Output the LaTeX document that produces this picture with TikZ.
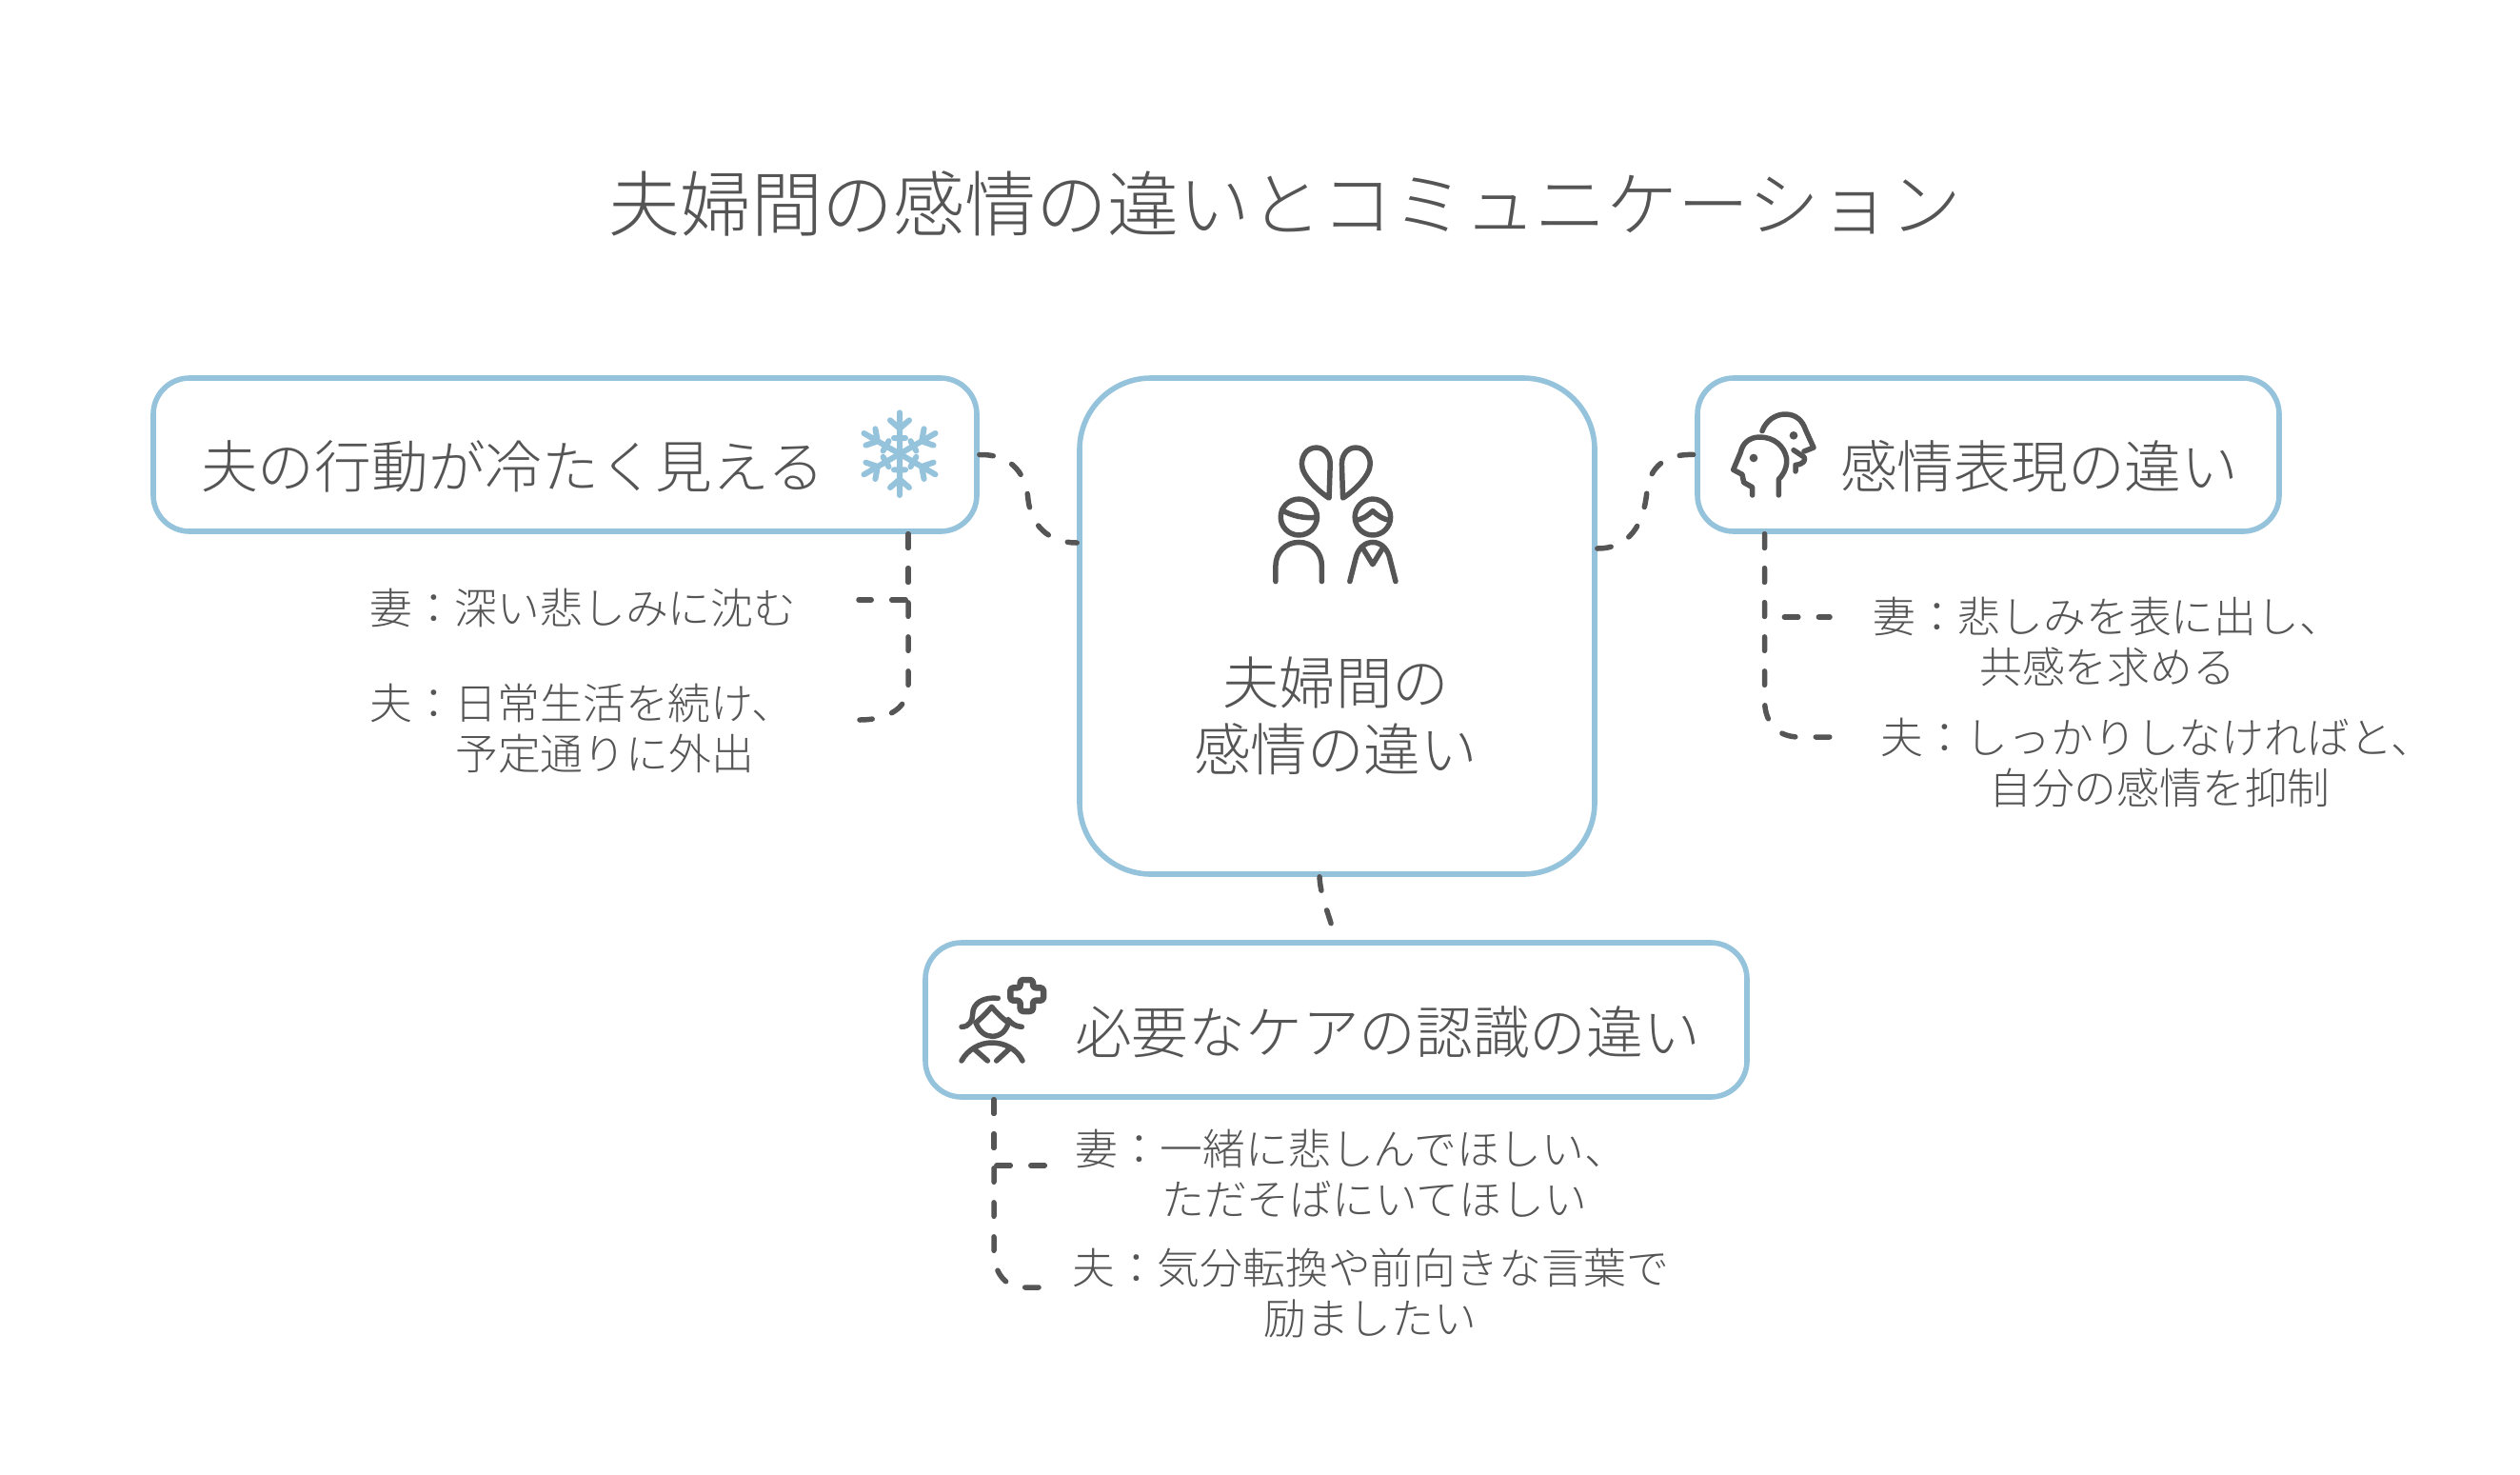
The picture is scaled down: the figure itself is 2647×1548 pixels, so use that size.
\documentclass[tikz,border=0pt]{standalone}
\usepackage{fontspec}
\setmainfont{Noto Sans CJK JP Light}
\definecolor{ink}{HTML}{555555}
\definecolor{frame}{HTML}{96C3DC}
\usetikzlibrary{calc}
\tikzset{
  box/.style={draw=frame,line width=5.6pt,fill=white,rounded corners=#1,inner sep=0pt,minimum width=0pt},
  conn/.style={draw=ink,line width=5.5pt,line cap=round,dash pattern=on 14.5pt off 21.5pt},
  icon/.style={draw=ink,line width=5.5pt,line cap=round,line join=round},
  head/.style={text=ink,font=\fontsize{59.7}{70}\selectfont,inner sep=0pt,anchor=west},
  ctext/.style={text=ink,font=\fontsize{59.5}{70}\selectfont,inner sep=0pt,align=center},
  ttl/.style={text=ink,font=\fontsize{74.9}{80}\selectfont,inner sep=0pt},
  lab/.style={text=ink,font=\fontsize{44.8}{53}\selectfont,inner sep=0pt,align=left,anchor=west},
}
\begin{document}
\begin{tikzpicture}[x=1pt,y=-1pt]
\useasboundingbox (0,0) rectangle (2647,1548);
\fill[white] (0,0) rectangle (2647,1548);
\node[ttl] (title) at (1350,214) {夫婦間の感情の違いとコミュニケーション};
% boxes
\node[box=75pt,minimum width=541pt,minimum height=521pt] (c) at (1404.5,657.5) {};
\node[box=38pt,minimum width=865pt,minimum height=161pt] (lb) at (593.5,477.5) {};
\node[box=38pt,minimum width=611pt,minimum height=161pt] (rb) at (2088.5,477.5) {};
\node[box=38pt,minimum width=863pt,minimum height=162pt] (bb) at (1403.5,1071) {};
% box text
\node[ctext] (ct) at (1403,752) {夫婦間の\\感情の違い};
\node[head] (lt) at (211,490) {夫の行動が冷たく見える};
\node[head] (rt) at (1933,490) {感情表現の違い};
\node[head] (bt) at (1129,1084) {必要なケアの認識の違い};
% labels
\node[lab] (l1) at (388,638) {妻：深い悲しみに沈む};
\node[lab] (l2) at (388,765) {夫：日常生活を続け、\\\hspace*{90pt}予定通りに外出};
\node[lab] (r1) at (1967,674) {妻：悲しみを表に出し、\\\hspace*{112pt}共感を求める};
\node[lab] (r2) at (1975,801) {夫：しっかりしなければと、\\\hspace*{114pt}自分の感情を抑制};
\node[lab] (b1) at (1129,1232) {妻：一緒に悲しんでほしい、\\\hspace*{91pt}ただそばにいてほしい};
\node[lab] (b2) at (1126,1358) {夫：気分転換や前向きな言葉で\\\hspace*{201pt}励ましたい};
% free ends
\coordinate (l1e) at (902,630);
\coordinate (l2e) at (903,756);
\coordinate (r1e) at (1922,648);
\coordinate (r2e) at (1922,774);
\coordinate (b1e) at (1098,1224);
\coordinate (b2e) at (1091,1352);
% connectors
\draw[conn] (lb.east) .. controls (1065,477) and (1078,500) .. (1080,525) .. controls (1083,550) and (1100,570) .. ([yshift=87.5pt]c.west);
\draw[conn] ([yshift=81.5pt]c.east) .. controls (1712,576) and (1727,550) .. (1730,515) .. controls (1733,490) and (1750,476) .. (rb.west);
\draw[conn] ([xshift=-18.5pt]c.south) .. controls (1387,940) and (1394,955) .. ([xshift=.5pt,yshift=-1.5pt]bb.north);
\draw[conn] ([xshift=360.5pt]lb.south) -- (954,630) -- (l1e);
\draw[conn] ([xshift=360.5pt]lb.south) -- (954,720) .. controls (954,742) and (935,756) .. (l2e);
\draw[conn] ([xshift=-235pt]rb.south) -- (1853.5,648) -- (r1e);
\draw[conn] ([xshift=-235pt]rb.south) -- (1853.5,735) .. controls (1853.5,757) and (1865,774) .. (1890,774) -- (r2e);
\draw[conn] ([xshift=-359.5pt]bb.south) -- (1044,1224) -- (b1e);
\draw[conn] ([xshift=-359.5pt]bb.south) -- (1044,1315) .. controls (1044,1335) and (1055,1352) .. (1075,1352) -- (b2e);
% centre icon
\begin{scope}[shift={(1100,380)},x=.382pt,y=-.3575pt,icon]
\draw (775,400) -- (778,300) .. controls (778,270) and (760,252) .. (740,252) .. controls (715,252) and (700,275) .. (700,300) .. controls (700,335) and (745,380) .. (775,400) -- cycle;
\draw (813,400) -- (810,300) .. controls (810,270) and (828,252) .. (848,252) .. controls (873,252) and (888,275) .. (888,300) .. controls (888,335) and (843,380) .. (813,400) -- cycle;
\draw (692,456) ellipse[x radius=50,y radius=53];
\draw (645,435) .. controls (670,452) and (710,462) .. (742,456);
\draw (895,456) ellipse[x radius=49,y radius=53];
\draw (848,465) .. controls (870,462) and (880,452) .. (895,438) .. controls (910,452) and (920,462) .. (943,465);
\draw (628,645) -- (628,600) .. controls (628,560) and (655,530) .. (692,530) .. controls (729,530) and (755,560) .. (755,600) -- (755,645);
\draw (832,645) -- (850,570) .. controls (858,545) and (875,530) .. (895,530) .. controls (915,530) and (932,545) .. (940,570) -- (958,645);
\draw (868,548) -- (895,595) -- (922,548);
\end{scope}
% snowflake
\begin{scope}[shift={(860,400)},x=.3333pt,y=-.3333pt]
\foreach \a in {0,60,...,300}{
  \begin{scope}[shift={(255,230)},rotate=\a]
  \draw[draw=frame,line width=6pt,line cap=round] (0,0) -- (0,-130) (0,-80) -- (-30,-106) (0,-80) -- (30,-106) (-18,-50) -- (18,-50);
  \end{scope}
}
\end{scope}
% heads icon
\begin{scope}[shift={(1780,400)},x=.3333pt,y=-.3333pt,icon]
\draw (265,360) -- (265,310) .. controls (285,290) and (292,265) .. (290,245) .. controls (283,205) and (250,177) .. (205,177) .. controls (170,177) and (150,200) .. (145,225) -- (122,280) -- (150,295) -- (155,320) -- (182,335) -- (182,360);
\fill[ink,draw=none] (186,243) circle[radius=13];
\draw (213,158) .. controls (225,125) and (255,105) .. (285,105) .. controls (320,105) and (340,125) .. (350,155) -- (375,210) -- (345,222);
\draw (312,218) -- (345,240) .. controls (350,250) and (345,262) .. (318,265) -- (318,285);
\fill[ink,draw=none] (312,172) circle[radius=13];
\end{scope}
% care icon
\begin{scope}[shift={(980,1000)},x=.3333pt,y=-.3333pt,icon]
\draw[line width=6.5pt,rounded corners=3pt] (275,87) -- (315,87) -- (315,112) -- (348,112) -- (348,152) -- (315,152) -- (315,186) -- (275,186) -- (275,152) -- (244,152) -- (244,112) -- (275,112) -- cycle;
\draw (90,235) .. controls (115,235) and (125,215) .. (125,195) .. controls (125,160) and (160,140) .. (205,145);
\draw (280,235) .. controls (260,235) and (245,222) .. (237,212);
\draw (135,222) .. controls (155,205) and (170,190) .. (185,172) .. controls (200,190) and (215,205) .. (237,222);
\draw (135,222) .. controls (145,250) and (165,265) .. (187,265) .. controls (210,265) and (230,250) .. (238,222);
\draw (90,342) .. controls (110,305) and (150,285) .. (185,285) .. controls (225,285) and (265,305) .. (282,342);
\draw (130,305) -- (172,342);
\draw (240,305) -- (200,342);
\end{scope}
\end{tikzpicture}
\end{document}
